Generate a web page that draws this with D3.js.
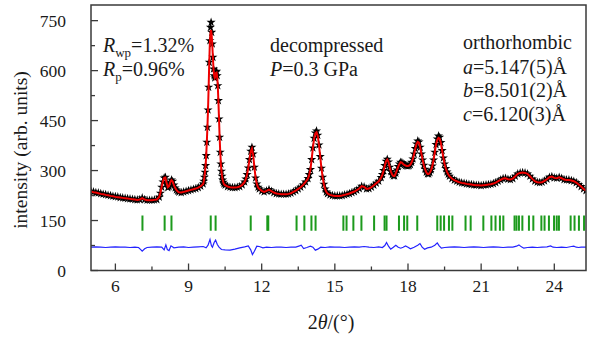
<!DOCTYPE html>
<html lang="en">
<head>
    <meta charset="UTF-8" />
    <title>Rietveld refinement</title>
    <script src="https://d3js.org/d3.v7.min.js"></script>
    <style>
        body { margin: 0; background: #fff; }
        .obs { fill: #000; }
        .calc { fill: none; stroke: #ee0000; stroke-width: 2px; }
        .diff { fill: none; stroke: #2323ff; stroke-width: 1.2px; }
        .bragg { stroke: #1c9a1c; stroke-width: 2px; }
    </style>
</head>
<body>
    <script>
        const twoTheta = [
            5.0,5.1,5.2,5.3,5.4,5.5,5.6,5.7,5.8,5.9,6.0,6.1,6.2,6.3,6.4,6.5,6.6,6.7,6.8,6.9,7.0,7.1,7.2,7.3,7.4,7.5,7.6,7.7,7.8,
            7.85,7.9,7.95,8.0,8.05,8.1,8.15,8.2,8.25,8.3,8.35,8.4,8.45,8.5,8.55,8.6,
            8.7,8.8,8.9,9.0,9.1,9.2,9.3,9.4,9.5,
            9.6,9.625,9.65,9.675,9.7,9.725,9.75,9.775,9.8,9.825,9.85,9.875,9.9,9.925,9.95,9.975,10.0,10.025,10.05,10.075,10.1,10.125,10.15,10.175,10.2,10.225,10.25,10.275,10.3,10.325,10.35,10.375,10.4,10.425,10.45,
            10.5,10.6,10.7,10.8,10.9,11.0,11.1,11.2,11.3,
            11.35,11.4,11.45,11.5,11.55,11.6,11.65,11.7,11.75,11.8,11.85,11.9,
            12.0,12.1,12.2,12.3,12.4,12.5,12.6,12.7,12.8,12.9,13.0,13.1,13.2,13.3,13.4,13.5,13.6,13.7,13.8,13.9,
            13.95,14.0,14.05,14.1,14.15,14.2,14.25,14.3,14.35,14.4,14.45,14.5,14.55,14.6,14.65,14.7,
            14.8,14.9,15.0,15.1,15.2,15.3,15.4,15.5,15.6,15.7,15.8,15.9,16.0,16.1,16.2,16.3,16.4,16.5,16.6,16.7,16.8,16.9,
            16.95,17.0,17.05,17.1,17.15,17.2,17.25,17.3,17.35,17.4,17.45,17.5,17.55,17.6,17.65,17.7,17.75,17.8,17.85,17.9,17.95,18.0,18.05,18.1,18.15,18.2,18.25,18.3,18.35,18.4,18.45,18.5,18.55,18.6,18.65,18.7,18.75,18.8,18.85,18.9,18.95,19.0,19.05,19.1,19.15,19.2,19.25,19.3,19.35,19.4,19.45,19.5,19.55,19.6,19.65,19.7,
            19.8,19.9,20.0,20.1,20.2,20.3,20.4,20.5,20.6,20.7,20.8,20.9,21.0,21.1,21.2,21.3,21.4,21.5,21.6,21.7,21.8,21.9,22.0,22.1,22.2,22.3,22.4,22.5,22.6,22.7,22.8,22.9,23.0,23.1,23.2,23.3,23.4,23.5,23.6,23.7,23.8,23.9,24.0,24.1,24.2,24.3,24.4,24.5,24.6,24.7,24.8,24.9,25.0,25.1,25.2,25.3
        ];

        // observed intensity (stars)
        const yObs = [
            238,236,234,233,231,229,228,226,225,223,222,221,219,218,217,216,215,214,213,212,213,218,213,211,211,211,212,213,220,
            232,250,266,278,280,262,249,252,265,272,268,257,248,242,238,235,
            234,236,238,240,242,244,246,249,253,
            260,268,280,295,315,345,385,430,482,550,625,690,730,745,715,680,640,605,585,578,582,595,598,585,555,510,455,400,355,320,298,283,272,265,260,
            256,252,250,249,249,250,252,257,266,
            275,288,308,333,358,370,350,310,278,260,250,245,
            239,236,239,243,238,234,231,230,229,229,229,230,232,236,240,245,250,257,266,276,
            288,303,333,368,397,413,419,406,377,342,307,280,259,245,236,231,
            227,225,224,224,224,225,227,229,231,234,237,241,246,253,251,245,246,250,256,262,268,279,
            288,300,315,328,334,326,310,297,288,284,284,292,302,312,320,325,324,320,317,315,314,314,315,318,325,335,350,366,380,389,386,370,350,332,316,304,295,290,290,294,302,314,332,355,378,395,404,400,384,360,338,320,306,296,289,283,
            276,271,268,265,263,262,260,259,258,257,256,256,255,256,257,258,259,261,264,268,272,276,277,274,273,276,283,290,293,294,293,290,283,275,268,265,264,265,269,274,280,282,278,277,280,277,273,272,272,270,268,264,258,252,245,240
        ];

        // calculated profile (red line)
        const yCalc = [
            237,235,234,232,230,229,227,226,224,223,221,220,219,218,217,216,215,214,213,212,213,217,213,211,211,211,212,213,221,
            234,252,268,278,279,263,250,253,265,271,267,256,248,242,238,235,
            234,236,238,240,242,244,246,249,253,
            260,268,280,295,316,346,386,432,485,552,625,685,712,722,705,675,638,604,585,578,582,593,594,583,553,508,455,400,356,320,298,283,272,265,260,
            256,252,250,249,249,250,252,257,266,
            275,288,308,333,357,366,348,310,278,260,250,245,
            239,236,239,243,238,234,231,230,229,229,229,230,232,236,240,245,250,257,266,276,
            288,304,334,368,396,412,415,404,376,342,307,280,259,245,236,231,
            227,225,224,224,224,225,227,229,231,234,237,241,246,253,251,245,246,250,256,262,268,279,
            288,300,315,328,333,326,310,297,288,284,284,292,302,312,320,325,324,320,317,315,314,314,315,318,325,335,350,366,380,386,384,370,350,332,316,304,295,290,290,294,302,314,332,355,378,392,398,396,382,360,338,320,306,296,289,283,
            276,271,268,265,263,262,260,259,258,257,256,256,255,256,257,258,259,261,264,268,272,276,277,274,273,276,283,290,293,294,293,290,283,275,268,265,264,265,269,274,280,282,278,277,280,277,273,272,272,270,268,264,258,252,245,240
        ];

        // difference curve (obs - calc, offset)
        const diffT = [5.0,5.2,5.4,5.6,5.8,6.0,6.2,6.4,6.6,6.8,6.95,7.05,7.1,7.2,7.3,7.5,7.7,7.9,8.0,8.07,8.13,8.2,8.28,8.4,8.6,8.8,9.0,9.2,9.4,9.6,9.72,9.8,9.88,9.94,9.98,10.05,10.11,10.18,10.25,10.35,10.5,10.7,10.9,11.1,11.3,11.45,11.55,11.62,11.7,11.8,11.9,12.05,12.2,12.4,12.6,12.8,13.0,13.2,13.4,13.55,13.62,13.72,13.85,14.0,14.1,14.2,14.3,14.42,14.6,14.8,15.0,15.2,15.4,15.6,15.8,16.0,16.2,16.4,16.6,16.8,16.95,17.05,17.12,17.2,17.29,17.4,17.5,17.6,17.7,17.8,17.9,18.0,18.1,18.25,18.4,18.49,18.58,18.68,18.8,18.95,19.1,19.2,19.28,19.37,19.5,19.7,19.9,20.1,20.3,20.5,20.7,20.9,21.1,21.3,21.5,21.7,21.9,22.1,22.3,22.45,22.55,22.65,22.75,22.9,23.1,23.3,23.5,23.7,23.85,23.95,24.1,24.3,24.5,24.7,24.8,24.9,25.0,25.1,25.3];
        const diffI = [70,71,70,69,70,71,70,70,69,70,69,62,58,65,69,70,71,70,62,77,63,60,74,68,70,71,69,70,71,72,68,76,93,74,70,84,91,78,70,63,62,61,64,68,71,74,62,48,58,73,72,68,70,69,70,70,69,70,70,74,76,66,69,73,70,61,64,70,69,71,70,70,69,70,71,70,72,70,69,71,69,75,84,73,64,70,76,70,67,70,74,70,65,70,76,81,70,64,68,70,76,83,74,67,69,70,71,70,69,70,71,70,69,70,71,70,69,70,70,73,77,71,67,69,70,69,70,71,74,70,69,70,69,72,73,70,69,70,70];

        // Bragg reflection positions
        const braggPos = [7.11,8.02,8.30,9.91,10.11,11.55,12.23,12.27,13.43,13.75,14.04,14.21,
            15.35,15.48,15.76,16.09,16.61,17.04,17.12,17.63,17.84,17.97,18.38,19.20,19.34,19.48,19.68,19.82,
            20.36,20.57,21.09,21.42,21.59,21.77,21.91,22.37,22.45,22.55,22.69,22.96,23.14,23.47,23.60,23.78,
            23.99,24.10,24.19,24.67,24.83,25.01,25.22];
        const braggTop = 165, braggBottom = 119;

        const xTicks = [6, 9, 12, 15, 18, 21, 24];
        const xMinor = [7.5, 10.5, 13.5, 16.5, 19.5, 22.5];
        const yTicks = [0, 150, 300, 450, 600, 750];
        const yMinor = [75, 225, 375, 525, 675];

        const width = 591, height = 339;
        const plotL = 91, plotR = 586, plotT = 5, plotB = 270.5;
        const serif = "'Times New Roman', 'Liberation Serif', Times, serif";

        const x = d3.scaleLinear().domain([5, 25.3]).range([plotL, plotR]);
        const y = d3.scaleLinear().domain([0, 797]).range([plotB, plotT]);

        const svg = d3.select("body").append("svg")
            .attr("width", width)
            .attr("height", height)
            .attr("font-family", serif)
            .style("font-family", serif);

        svg.append("defs").append("clipPath").attr("id", "plot")
            .append("rect")
            .attr("x", plotL).attr("y", plotT)
            .attr("width", plotR - plotL).attr("height", plotB - plotT);

        const plot = svg.append("g").attr("clip-path", "url(#plot)");

        // observed points
        const star = d3.symbol(d3.symbolStar).size(26);
        plot.selectAll(".obs")
            .data(twoTheta)
            .enter()
            .append("path")
            .attr("class", "obs")
            .attr("d", star)
            .attr("transform", (d, i) => `translate(${x(d)},${y(yObs[i])})`);

        // calculated line
        const line = d3.line()
            .x(d => x(d[0]))
            .y(d => y(d[1]));
        plot.append("path")
            .attr("class", "calc")
            .attr("d", line(twoTheta.map((t, i) => [t, yCalc[i]])));

        // Bragg ticks
        plot.selectAll(".bragg")
            .data(braggPos)
            .enter()
            .append("line")
            .attr("class", "bragg")
            .attr("x1", d => x(d)).attr("x2", d => x(d))
            .attr("y1", y(braggTop)).attr("y2", y(braggBottom));

        // difference
        plot.append("path")
            .attr("class", "diff")
            .attr("d", line(diffT.map((t, i) => [t, diffI[i]])));

        // frame
        svg.append("rect")
            .attr("x", plotL).attr("y", plotT)
            .attr("width", plotR - plotL).attr("height", plotB - plotT)
            .attr("fill", "none")
            .attr("stroke", "#3a3a3a")
            .attr("stroke-width", 1.5);

        // ticks pointing inward
        const axes = svg.append("g").attr("stroke", "#3a3a3a").attr("stroke-width", 1.3);
        axes.selectAll(".xt").data(xTicks).enter().append("line")
            .attr("x1", d => x(d)).attr("x2", d => x(d))
            .attr("y1", plotB).attr("y2", plotB - 7);
        axes.selectAll(".xm").data(xMinor).enter().append("line")
            .attr("x1", d => x(d)).attr("x2", d => x(d))
            .attr("y1", plotB).attr("y2", plotB - 4);
        axes.selectAll(".yt").data(yTicks).enter().append("line")
            .attr("x1", plotL).attr("x2", plotL + 7)
            .attr("y1", d => y(d)).attr("y2", d => y(d));
        axes.selectAll(".ym").data(yMinor).enter().append("line")
            .attr("x1", plotL).attr("x2", plotL + 4)
            .attr("y1", d => y(d)).attr("y2", d => y(d));

        const ink = "#1a1a1a";

        // tick labels
        svg.selectAll(".xl").data(xTicks).enter().append("text")
            .attr("x", d => x(d)).attr("y", 292)
            .attr("text-anchor", "middle")
            .attr("font-size", 17.5).attr("fill", ink)
            .text(d => d);
        svg.selectAll(".yl").data(yTicks).enter().append("text")
            .attr("x", 66).attr("y", d => y(d) + 6)
            .attr("text-anchor", "end")
            .attr("font-size", 17.5).attr("fill", ink)
            .text(d => d);

        // axis titles
        svg.append("text")
            .attr("transform", "translate(27,150) rotate(-90)")
            .attr("text-anchor", "middle")
            .attr("font-size", 19.5).attr("fill", ink)
            .text("intensity (arb. units)");
        const xt = svg.append("text")
            .attr("x", 331).attr("y", 329)
            .attr("text-anchor", "middle")
            .attr("font-size", 20).attr("fill", ink);
        xt.append("tspan").text("2");
        xt.append("tspan").attr("font-style", "italic").text("θ");
        xt.append("tspan").text("/(°)");

        // annotations
        function label(xPos, yPos) {
            return svg.append("text").attr("x", xPos).attr("y", yPos)
                .attr("font-size", 20).attr("fill", ink);
        }
        function rLine(yPos, sub, rest) {
            const t = label(103, yPos);
            t.append("tspan").attr("font-style", "italic").text("R");
            t.append("tspan").attr("font-size", 13).attr("dy", 5).text(sub);
            t.append("tspan").attr("dy", -5).text(rest);
        }
        rLine(52, "wp", "=1.32%");
        rLine(76, "p", "=0.96%");

        label(270, 52).text("decompressed");
        const p = label(270, 76);
        p.append("tspan").attr("font-style", "italic").text("P");
        p.append("tspan").text("=0.3 GPa");

        label(463, 49).text("orthorhombic");
        const cell = [["a", "=5.147(5)Å", 73.5], ["b", "=8.501(2)Å", 97], ["c", "=6.120(3)Å", 121]];
        cell.forEach(c => {
            const t = label(463, c[2]);
            t.append("tspan").attr("font-style", "italic").text(c[0]);
            t.append("tspan").text(c[1]);
        });
    </script>
</body>
</html>
